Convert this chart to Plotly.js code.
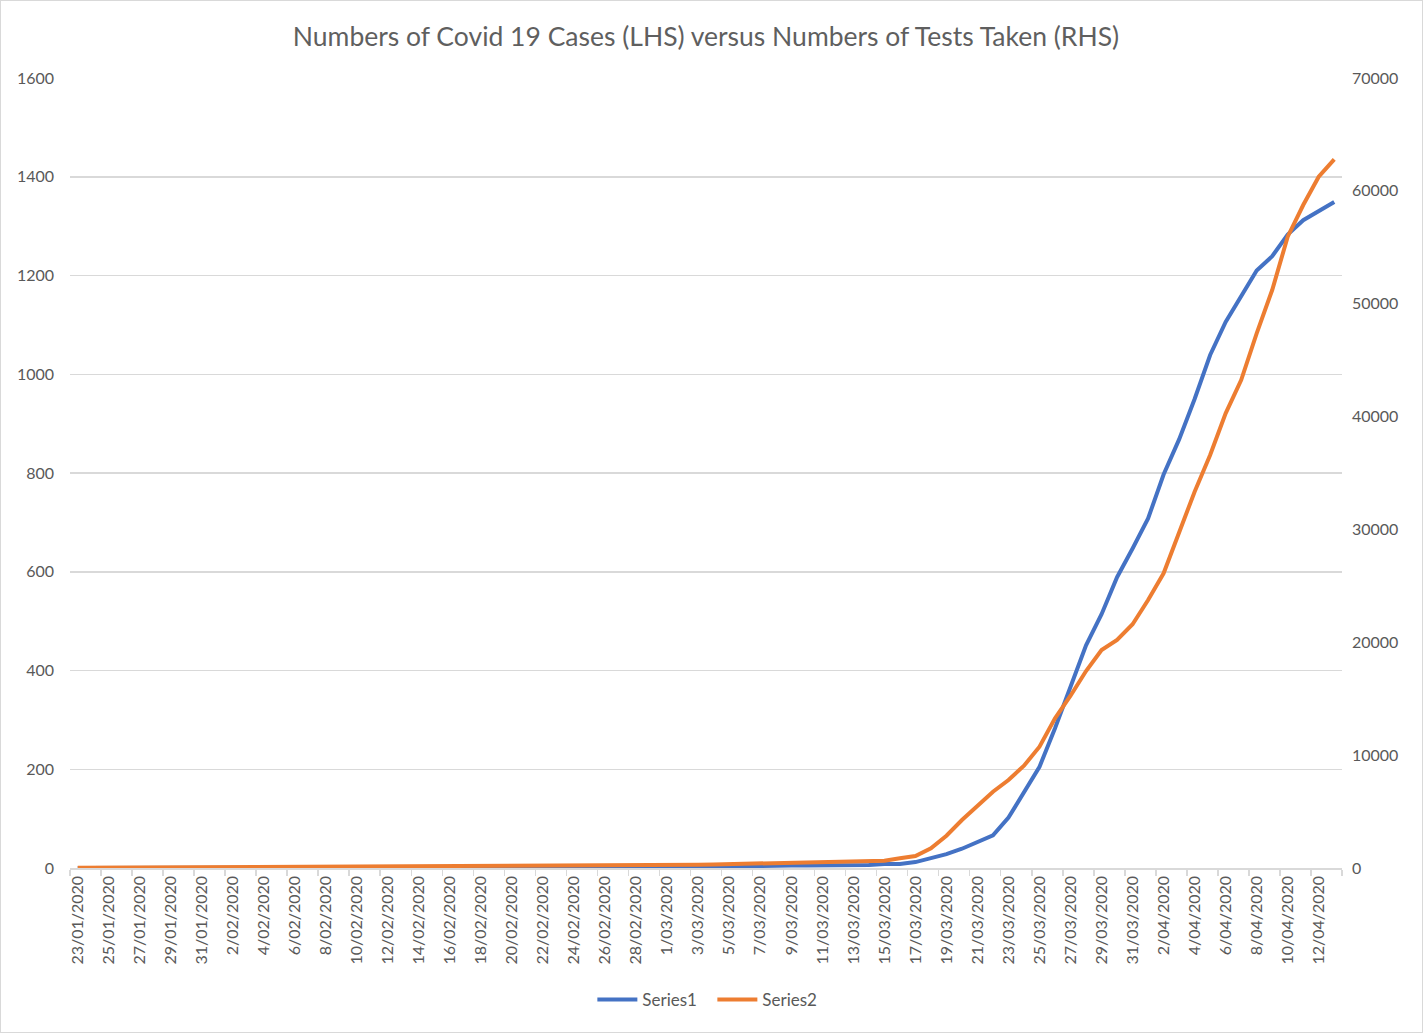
<!DOCTYPE html>
<html>
<head>
<meta charset="utf-8">
<script src="https://cdn.plot.ly/plotly-3.0.1.min.js"></script>
<style>
  body { margin: 0; background: #fff; }
  #wrap { position: relative; width: 1423px; height: 1033px; }
  #chart { width: 1423px; height: 1033px; }
  #frame { position: absolute; left: 0; top: 0; width: 1423px; height: 1033px;
           box-sizing: border-box; border: 1px solid #d9d9d9; pointer-events: none; }
</style>
</head>
<body>
<div id="wrap"><div id="chart"></div><div id="frame"></div></div>
<script>
// one entry per day, 23/01/2020 .. 13/04/2020
var dates = [
  '23/01/2020','24/01/2020','25/01/2020','26/01/2020','27/01/2020','28/01/2020','29/01/2020','30/01/2020','31/01/2020',
  '1/02/2020','2/02/2020','3/02/2020','4/02/2020','5/02/2020','6/02/2020','7/02/2020','8/02/2020','9/02/2020','10/02/2020',
  '11/02/2020','12/02/2020','13/02/2020','14/02/2020','15/02/2020','16/02/2020','17/02/2020','18/02/2020','19/02/2020',
  '20/02/2020','21/02/2020','22/02/2020','23/02/2020','24/02/2020','25/02/2020','26/02/2020','27/02/2020','28/02/2020','29/02/2020',
  '1/03/2020','2/03/2020','3/03/2020','4/03/2020','5/03/2020','6/03/2020','7/03/2020','8/03/2020','9/03/2020','10/03/2020',
  '11/03/2020','12/03/2020','13/03/2020','14/03/2020','15/03/2020','16/03/2020','17/03/2020','18/03/2020','19/03/2020','20/03/2020',
  '21/03/2020','22/03/2020','23/03/2020','24/03/2020','25/03/2020','26/03/2020','27/03/2020','28/03/2020','29/03/2020','30/03/2020',
  '31/03/2020','1/04/2020','2/04/2020','3/04/2020','4/04/2020','5/04/2020','6/04/2020','7/04/2020','8/04/2020','9/04/2020',
  '10/04/2020','11/04/2020','12/04/2020','13/04/2020'
];

// Series1: cumulative cases (left axis)
var cases = [
  0,0,0,0,0,0,0,0,0,
  0,0,0,0,0,0,0,0,0,0,
  0,0,0,0,0,0,0,0,0,
  0,0,0,0,0,0,0,0,1,1,
  1,1,1,2,3,4,5,5,5,5,
  5,5,5,6,8,8,12,20,28,39,
  52,66,102,155,205,283,368,451,514,589,
  647,708,797,868,950,1039,1106,1160,1210,1239,
  1283,1312,1330,1349
];

// Series2: cumulative tests (right axis)
var tests = [
  20,25,30,35,40,45,50,55,60,
  65,70,75,120,125,130,132,134,136,138,
  140,142,144,146,148,150,152,154,156,
  220,225,230,235,240,245,250,255,260,265,
  270,275,280,310,340,370,400,430,460,490,
  520,560,590,620,650,860,1063,1745,2862,4253,
  5494,6760,7797,9065,10748,13264,15266,17455,19316,20202,
  21600,23746,26110,29653,33345,36594,40285,43239,47375,51214,
  55939,58745,61255,62792
];

var leftTicks = [0, 200, 400, 600, 800, 1000, 1200, 1400, 1600];
var rightTicks = [0, 10000, 20000, 30000, 40000, 50000, 60000, 70000];

var font = 'Lato, "Open Sans", sans-serif';
var grey = '#595959';

var traces = [{
    x: dates,
    y: cases,
    name: 'Series1',
    type: 'scatter',
    mode: 'lines',
    line: { color: '#4472c4', width: 4 },
    yaxis: 'y'
  },
  {
    x: dates,
    y: tests,
    name: 'Series2',
    type: 'scatter',
    mode: 'lines',
    line: { color: '#ed7d31', width: 4 },
    yaxis: 'y2'
  }
];

var layout = {
  width: 1423,
  height: 1033,
  margin: { l: 70, r: 81, t: 78, b: 165 },
  paper_bgcolor: '#fff',
  plot_bgcolor: '#fff',
  font: { family: font, color: grey, size: 16 },
  title: {
    text: 'Numbers of Covid 19 Cases (LHS) versus Numbers of Tests Taken (RHS)',
    font: { family: font, size: 26.5, color: '#5f5f5f' },
    x: 0.5, xref: 'paper', xanchor: 'center',
    y: 1 - 37 / 1033, yref: 'container', yanchor: 'middle'
  },
  xaxis: {
    type: 'category',
    range: [-0.5, dates.length - 0.5],
    tickmode: 'linear', tick0: 0, dtick: 2,
    tickson: 'boundaries',
    ticks: 'outside', ticklen: 6, tickcolor: '#d9d9d9', tickwidth: 1.5,
    tickangle: -90,
    tickfont: { size: 16, color: grey },
    showline: true, linecolor: '#d9d9d9', linewidth: 1.5,
    showgrid: false, zeroline: false, fixedrange: true
  },
  yaxis: {
    range: [0, 1600],
    tickvals: leftTicks,
    ticks: '', ticklabelstandoff: 15,
    showgrid: true, gridcolor: '#d9d9d9', gridwidth: 1.5,
    zeroline: false, showline: false,
    tickfont: { size: 16, color: grey }
  },
  yaxis2: {
    overlaying: 'y', side: 'right',
    range: [0, 70000],
    tickvals: rightTicks,
    tickformat: 'd',
    ticks: '', ticklabelstandoff: 9,
    showgrid: false, zeroline: false, showline: false,
    tickfont: { size: 16, color: grey }
  },
  showlegend: true,
  legend: {
    orientation: 'h',
    x: 0.505, xanchor: 'center',
    y: -0.167, yanchor: 'middle',
    font: { size: 17, color: grey },
    itemwidth: 40,
    entrywidth: 65, entrywidthmode: 'pixels'
  }
};

Plotly.newPlot('chart', traces, layout, { displayModeBar: false, staticPlot: true });
</script>
</body>
</html>
